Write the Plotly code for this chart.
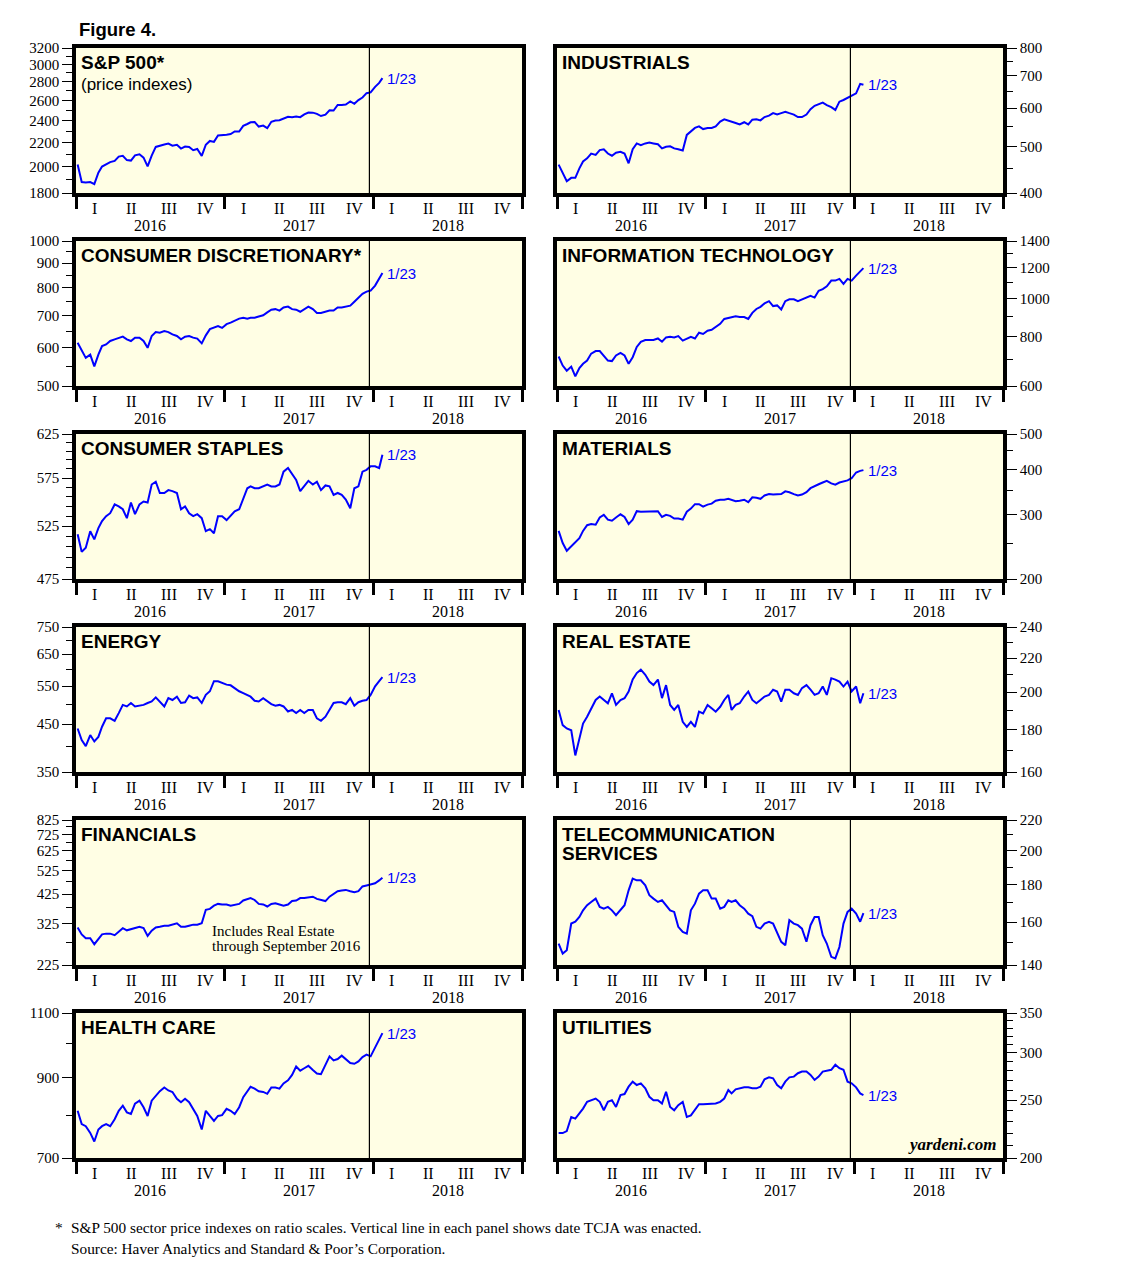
import math
import plotly.graph_objects as go

# ---------------- data ----------------
DATES = [f"{y}-{m:02d}-{d:02d}" for y in (2016, 2017) for m in range(1, 13) for d in (5, 15, 25)] + \
        ["2018-01-05", "2018-01-15", "2018-01-23"]

SP500 = [2016, 1880, 1877, 1880, 1865, 1951, 1999, 2016, 2035, 2045, 2080, 2087,
         2051, 2047, 2090, 2099, 2071, 2000, 2088, 2161, 2168, 2182, 2190, 2172,
         2180, 2147, 2164, 2160, 2133, 2143, 2085, 2180, 2213, 2205, 2262, 2263,
         2269, 2275, 2298, 2297, 2349, 2367, 2383, 2385, 2343, 2352, 2328, 2388,
         2399, 2402, 2415, 2436, 2432, 2438, 2432, 2459, 2477, 2476, 2464, 2443,
         2457, 2500, 2497, 2552, 2553, 2557, 2588, 2564, 2602, 2629, 2675, 2683,
         2743, 2786, 2839]

INDUSTRIALS = [458, 440, 423, 430, 430, 450, 465, 472, 483, 480, 491, 493,
               483, 478, 485, 487, 483, 461, 493, 507, 503, 507, 509, 507,
               505, 495, 499, 500, 495, 493, 490, 528, 537, 546, 550, 543,
               546, 546, 550, 563, 569, 566, 563, 559, 555, 561, 555, 568,
               569, 566, 575, 579, 586, 582, 586, 590, 586, 582, 575, 575,
               582, 597, 607, 612, 616, 609, 603, 595, 619, 624, 631, 636,
               644, 674, 671]

CONS_DISC = [615, 595, 572, 581, 549, 581, 605, 610, 620, 625, 630, 633,
             625, 620, 630, 630, 620, 600, 635, 647, 645, 650, 647, 640,
             635, 625, 633, 635, 630, 627, 613, 637, 656, 660, 666, 660,
             672, 677, 683, 690, 693, 690, 693, 693, 697, 701, 711, 720,
             722, 717, 728, 731, 722, 720, 713, 722, 731, 722, 709, 709,
             713, 717, 717, 728, 728, 731, 734, 748, 764, 777, 785, 789,
             808, 835, 858]

INFO_TECH = [713, 676, 656, 672, 635, 666, 683, 696, 725, 736, 736, 717,
             696, 694, 717, 728, 717, 683, 710, 754, 777, 785, 785, 785,
             792, 777, 797, 800, 797, 803, 782, 792, 800, 792, 819, 813,
             829, 833, 849, 863, 888, 893, 898, 902, 898, 898, 888, 920,
             941, 953, 972, 985, 957, 961, 938, 985, 996, 996, 985, 996,
             1006, 1016, 1006, 1047, 1057, 1074, 1111, 1111, 1122, 1089, 1122, 1111,
             1144, 1171, 1195]

CONS_STAPLES = [517, 500, 504, 520, 512, 523, 530, 535, 538, 547, 545, 542,
                533, 549, 537, 547, 550, 549, 568, 571, 559, 559, 562, 561,
                559, 542, 545, 538, 535, 537, 533, 520, 522, 518, 535, 535,
                531, 535, 540, 542, 552, 564, 566, 564, 564, 566, 568, 566,
                566, 568, 582, 586, 579, 573, 561, 566, 572, 568, 571, 562,
                567, 566, 557, 559, 557, 552, 543, 564, 566, 582, 584, 588,
                588, 586, 601]

MATERIALS = [271, 251, 239, 246, 253, 259, 271, 281, 283, 282, 295, 300,
             291, 289, 295, 301, 296, 283, 291, 307, 306, 306, 307, 306,
             307, 296, 300, 298, 293, 293, 291, 306, 312, 321, 321, 316,
             320, 322, 328, 330, 330, 332, 330, 327, 328, 330, 325, 335,
             334, 332, 339, 342, 341, 341, 342, 348, 346, 342, 339, 341,
             346, 355, 360, 364, 368, 372, 366, 363, 368, 370, 373, 378,
             392, 396, 398]

ENERGY = [440, 414, 401, 425, 411, 421, 444, 464, 464, 458, 477, 498,
          494, 503, 494, 496, 498, 503, 507, 518, 505, 494, 516, 511,
          520, 503, 505, 523, 516, 518, 503, 525, 535, 564, 564, 559,
          554, 552, 544, 535, 530, 525, 520, 509, 507, 516, 507, 500,
          496, 498, 494, 481, 485, 477, 485, 477, 485, 485, 464, 458,
          468, 485, 503, 505, 505, 500, 516, 496, 505, 509, 511, 525,
          549, 564, 576]

REAL_ESTATE = [190.3, 182.4, 180.7, 179.8, 167.6, 175.7, 183.2, 186.7, 191.2, 195.7, 197.6, 195.7,
               193.9, 199.4, 193.0, 195.7, 196.7, 200.4, 207.2, 211.0, 213.0, 210.0, 206.0, 204.0,
               207.2, 196.7, 204.0, 193.0, 190.3, 193.0, 184.1, 181.5, 184.1, 181.5, 189.4, 188.5,
               193.0, 191.2, 189.4, 192.0, 195.7, 198.5, 190.3, 193.0, 193.9, 197.6, 200.4, 195.7,
               193.9, 195.7, 197.6, 198.5, 201.4, 200.4, 194.8, 201.4, 201.4, 199.4, 198.5, 202.3,
               204.0, 201.4, 198.5, 199.4, 203.2, 198.5, 208.0, 207.2, 206.0, 203.2, 206.0, 200.4,
               203.2, 193.9, 199.4]

FINANCIALS = [315, 296, 286, 286, 271, 284, 296, 298, 298, 294, 304, 313,
              307, 310, 315, 317, 313, 292, 306, 315, 317, 320, 320, 323,
              327, 317, 317, 320, 323, 323, 327, 369, 372, 383, 389, 387,
              387, 383, 387, 389, 401, 407, 410, 403, 389, 387, 380, 389,
              391, 387, 383, 387, 399, 401, 410, 410, 413, 415, 407, 403,
              399, 415, 426, 436, 439, 441, 436, 432, 436, 455, 459, 463,
              468, 480, 492]

TELECOM = [149.7, 145.1, 146.6, 159.3, 160.2, 162.6, 166.0, 168.7, 170.4, 172.2, 167.8, 166.9,
           167.8, 166.0, 163.5, 166.3, 168.7, 176.7, 183.3, 182.3, 182.3, 179.5, 174.0, 172.2,
           170.4, 171.3, 168.7, 166.0, 165.2, 157.7, 155.2, 154.4, 166.0, 169.5, 174.9, 176.7,
           176.7, 172.2, 172.2, 166.9, 167.8, 171.3, 170.4, 171.3, 168.7, 166.9, 164.3, 163.0,
           157.7, 156.8, 159.3, 160.2, 159.3, 155.2, 150.5, 148.9, 161.0, 159.3, 158.5, 156.8,
           150.5, 158.5, 162.6, 162.6, 153.6, 149.7, 143.6, 142.9, 148.1, 159.3, 165.2, 166.9,
           164.3, 160.2, 164.6]

HEALTH_CARE = [811, 778, 773, 757, 737, 765, 773, 778, 773, 790, 811, 824,
               807, 803, 829, 837, 820, 798, 837, 851, 862, 872, 864, 860,
               842, 833, 842, 833, 816, 798, 765, 811, 798, 786, 798, 800,
               816, 811, 803, 820, 846, 862, 874, 869, 862, 860, 855, 872,
               872, 869, 883, 892, 907, 931, 919, 926, 933, 921, 911, 909,
               936, 961, 949, 953, 963, 951, 941, 939, 946, 959, 966, 961,
               986, 1013, 1033]

UTILITIES = [220.2, 220.2, 221.9, 234.3, 232.8, 237.4, 242.0, 248.4, 250.0, 251.6, 248.4, 240.5,
             248.4, 250.0, 243.6, 255.0, 256.0, 263.4, 268.5, 265.1, 266.8, 261.7, 253.3, 250.0,
             250.0, 246.8, 258.3, 243.6, 240.5, 245.2, 248.4, 234.3, 235.8, 240.5, 246.2, 246.2,
             246.2, 246.2, 246.8, 248.4, 251.6, 260.0, 256.6, 260.7, 261.7, 262.7, 262.7, 261.7,
             261.7, 263.4, 271.0, 273.0, 272.0, 265.1, 261.7, 268.5, 273.0, 273.8, 277.4, 279.2,
             279.2, 275.6, 270.3, 273.8, 279.2, 280.3, 281.1, 286.6, 282.9, 281.1, 268.5, 266.8,
             262.7, 256.6, 255.0]

TITLES = ["S&P 500*", "INDUSTRIALS", "CONSUMER DISCRETIONARY*", "INFORMATION TECHNOLOGY",
          "CONSUMER STAPLES", "MATERIALS", "ENERGY", "REAL ESTATE", "FINANCIALS",
          "TELECOMMUNICATION|SERVICES", "HEALTH CARE", "UTILITIES"]
SERIES = [SP500, INDUSTRIALS, CONS_DISC, INFO_TECH, CONS_STAPLES, MATERIALS,
          ENERGY, REAL_ESTATE, FINANCIALS, TELECOM, HEALTH_CARE, UTILITIES]

Y_TICKS = [
    [1800, 2000, 2200, 2400, 2600, 2800, 3000, 3200],
    [400, 500, 600, 700, 800],
    [500, 600, 700, 800, 900, 1000],
    [600, 800, 1000, 1200, 1400],
    [475, 525, 575, 625],
    [200, 300, 400, 500],
    [350, 450, 550, 650, 750],
    [160, 180, 200, 220, 240],
    [225, 325, 425, 525, 625, 725, 825],
    [140, 160, 180, 200, 220],
    [700, 900, 1100],
    [200, 250, 300, 350],
]
Y_MINOR = [
    [1900, 2100, 2300, 2500, 2700, 2900, 3100],
    [450, 550, 650, 750],
    [550, 650, 750, 850, 950],
    [700, 900, 1100, 1300],
    [485, 495, 505, 515, 535, 545, 555, 565, 585, 595, 605, 615],
    [250, 350, 450],
    [400, 500, 600, 700],
    [170, 190, 210, 230],
    [275, 375, 475, 575, 675, 775],
    [150, 170, 190, 210],
    [800, 1000],
    [210, 220, 230, 240, 260, 270, 280, 290, 310, 320, 330, 340],
]

QUARTERS = ["I", "II", "III", "IV"]
YEARS = [2016, 2017, 2018]
LAST_LABEL = "1/23"
TCJA_DATE = "2017-12-22"

# ---------------- layout constants (page pixels) ----------------
PAGE_OFF = 8                      # default body margin of the html page
W, H = 1138 - 2 * PAGE_OFF, 1279 - 2 * PAGE_OFF
COL_X = [(76, 522), (557, 1003)]
ROW_TOP = [48, 241, 434, 627, 820, 1013]
PANEL_H = 145
BG = "#FFFEE4"
SERIF = "Liberation Serif"
SANS = "Liberation Sans"


def fx(xp):
    return (xp - PAGE_OFF) / W


def fy(yp):
    return 1 - (yp - PAGE_OFF) / H


fig = go.Figure()
layout = dict(width=W, height=H, margin=dict(l=0, r=0, t=0, b=0, autoexpand=False),
              paper_bgcolor="white", plot_bgcolor=BG, showlegend=False,
              hovermode=False)
annotations = []
shapes = []


def sfx(n):
    return "" if n == 1 else str(n)


for i, (title, vals) in enumerate(zip(TITLES, SERIES)):
    n = i + 1
    row, col = i // 2, i % 2
    x0, x1 = COL_X[col]
    top = ROW_TOP[row]
    bot = top + PANEL_H
    xname, yname = "x" + sfx(n), "y" + sfx(n)

    fig.add_trace(go.Scatter(x=DATES, y=vals, mode="lines",
                             line=dict(color="#0000FF", width=2),
                             xaxis=xname, yaxis=yname))

    layout["xaxis" + sfx(n)] = dict(
        domain=[fx(x0), fx(x1)], anchor=yname, type="date",
        range=["2016-01-01", "2019-01-01"], automargin=False,
        tickmode="array",
        tickvals=["2016-01-01", "2017-01-01", "2018-01-01", "2019-01-01"],
        ticks="outside", ticklen=12, tickwidth=3, tickcolor="black",
        showticklabels=False, showgrid=False, zeroline=False,
        showline=True, mirror=True, linecolor="black", linewidth=3.5,
        fixedrange=True)

    yt = Y_TICKS[i]
    layout["yaxis" + sfx(n)] = dict(
        domain=[fy(bot), fy(top)], anchor=xname, type="log",
        range=[math.log10(min(yt)), math.log10(max(yt))], automargin=False,
        side="left" if col == 0 else "right",
        tickmode="array", tickvals=yt, ticktext=[str(v) for v in yt],
        ticks="outside", ticklen=10, tickwidth=1.3, tickcolor="black",
        tickfont=dict(family=SERIF, size=15, color="black"),
        minor=dict(tickmode="array", tickvals=Y_MINOR[i], ticks="outside",
                   ticklen=6, tickwidth=1.2, tickcolor="black", showgrid=False),
        showgrid=False, zeroline=False,
        showline=True, mirror=True, linecolor="black", linewidth=3.5,
        fixedrange=True)

    xd, yd = xname + " domain", yname + " domain"

    # panel title(s)
    for k, part in enumerate(title.split("|")):
        annotations.append(dict(text=f"<b>{part}</b>", xref=xd, yref=yd, x=0, y=1,
                                xanchor="left", yanchor="top", xshift=3, yshift=-2 - 19 * k,
                                showarrow=False,
                                font=dict(family=SANS, size=19, color="black")))
    if n == 1:
        annotations.append(dict(text="(price indexes)", xref=xd, yref=yd, x=0, y=1,
                                xanchor="left", yanchor="top", xshift=3, yshift=-25,
                                showarrow=False,
                                font=dict(family=SANS, size=17, color="black")))

    # last value label
    annotations.append(dict(text=LAST_LABEL, xref=xname, yref=yname,
                            x=DATES[-1], y=math.log10(vals[-1]),
                            xanchor="left", yanchor="middle", xshift=3,
                            showarrow=False,
                            font=dict(family=SANS, size=15, color="#0000FF")))

    # quarter & year labels
    for y in YEARS:
        for q, qd in zip(QUARTERS, ["02-15", "05-16", "08-16", "11-15"]):
            annotations.append(dict(text=q, xref=xname, yref=yd, x=f"{y}-{qd}", y=0,
                                    xanchor="center", yanchor="top", yshift=-5,
                                    showarrow=False,
                                    font=dict(family=SERIF, size=16, color="black")))
        annotations.append(dict(text=str(y), xref=xname, yref=yd, x=f"{y}-07-02", y=0,
                                xanchor="center", yanchor="top", yshift=-22,
                                showarrow=False,
                                font=dict(family=SERIF, size=16, color="black")))

    # TCJA vertical line
    shapes.append(dict(type="line", xref=xname, yref=yd, x0=TCJA_DATE, x1=TCJA_DATE,
                       y0=0, y1=1, line=dict(color="black", width=1.2), layer="above"))

# extra texts
annotations.append(dict(text="<b>Figure 4.</b>", xref="paper", yref="paper",
                        x=fx(77), y=fy(30), xanchor="left", yanchor="middle",
                        showarrow=False, font=dict(family=SANS, size=18.5, color="black")))
annotations.append(dict(text="Includes Real Estate", xref="x9", yref="y9 domain",
                        x="2016-11-25", y=0.234, xanchor="left", yanchor="middle",
                        showarrow=False, font=dict(family=SERIF, size=15, color="black")))
annotations.append(dict(text="through September 2016", xref="x9", yref="y9 domain",
                        x="2016-11-25", y=0.131, xanchor="left", yanchor="middle",
                        showarrow=False, font=dict(family=SERIF, size=15, color="black")))
annotations.append(dict(text="<b><i>yardeni.com</i></b>", xref="x12 domain", yref="y12 domain",
                        x=1, y=0, xanchor="right", yanchor="bottom", xshift=-5, yshift=2,
                        showarrow=False, font=dict(family=SERIF, size=17, color="black")))
annotations.append(dict(text="*", xref="paper", yref="paper", x=fx(53), y=fy(1227),
                        xanchor="left", yanchor="middle", showarrow=False,
                        font=dict(family=SERIF, size=15.3, color="black")))
annotations.append(dict(text="S&P 500 sector price indexes on ratio scales. Vertical line in each panel shows date TCJA was enacted.",
                        xref="paper", yref="paper", x=fx(69), y=fy(1227),
                        xanchor="left", yanchor="middle", showarrow=False,
                        font=dict(family=SERIF, size=15.3, color="black")))
annotations.append(dict(text="Source: Haver Analytics and Standard &amp; Poor’s Corporation.",
                        xref="paper", yref="paper", x=fx(69), y=fy(1248),
                        xanchor="left", yanchor="middle", showarrow=False,
                        font=dict(family=SERIF, size=15.3, color="black")))

layout["annotations"] = annotations
layout["shapes"] = shapes
fig.update_layout(**layout)
fig.write_html("out.html")
